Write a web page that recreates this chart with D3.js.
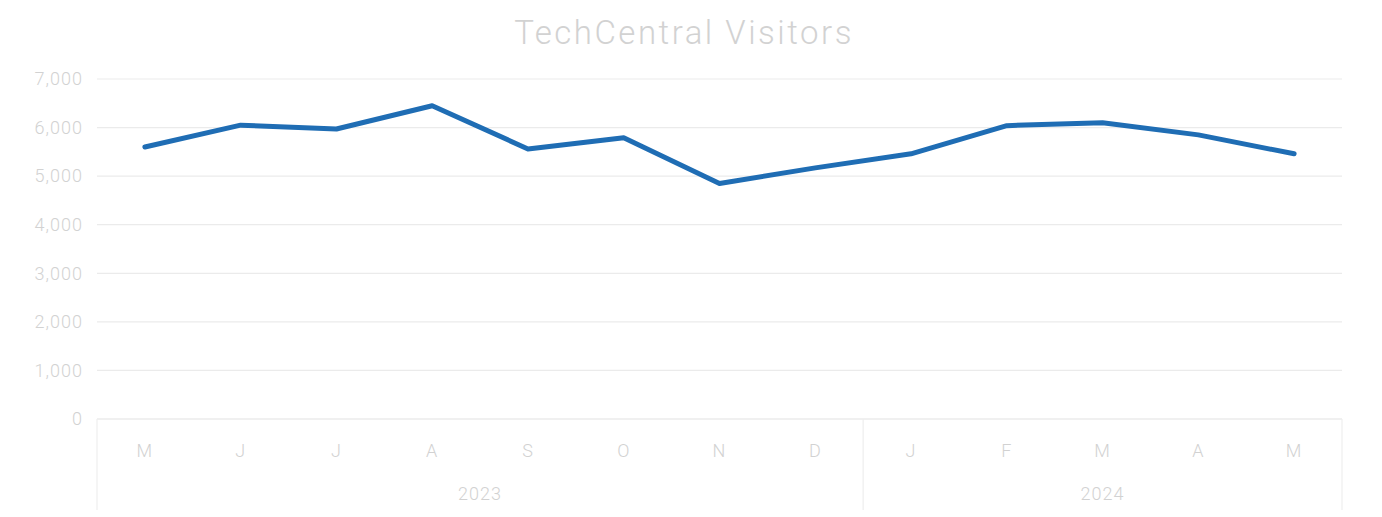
<!DOCTYPE html>
<html>
<head>
<meta charset="utf-8">
<script src="https://cdn.jsdelivr.net/npm/d3@7"></script>
<style>
  body { margin: 0; background: #fff; }
  svg { display: block; }
</style>
</head>
<body>
<div id="chart"></div>
<script>
// chart data
var months = ["M", "J", "J", "A", "S", "O", "N", "D", "J", "F", "M", "A", "M"];
var years = ["2023", "2023", "2023", "2023", "2023", "2023", "2023", "2023", "2024", "2024", "2024", "2024", "2024"];
var visitors = [5600, 6050, 5970, 6450, 5560, 5790, 4850, 5170, 5460, 6040, 6100, 5850, 5460];
var yTicks = [0, 1000, 2000, 3000, 4000, 5000, 6000, 7000];

var width = 1382,
	height = 517;

var margin = { top: 79, right: 40, bottom: 97, left: 97 };

var svg = d3.select("#chart")
	.append("svg")
	.attr("width", width)
	.attr("height", height);

var idx = d3.range(months.length);

// band scale so each month sits in the middle of its slot
var x = d3.scaleBand()
	.domain(idx)
	.range([margin.left, width - margin.right])
	.padding(0);

var y = d3.scaleLinear()
	.domain([0, 7000])
	.range([height - margin.bottom - 1, margin.top]);

// Title
svg.append("text")
	.attr("x", 684)
	.attr("y", 44)
	.attr("text-anchor", "middle")
	.style("font-family", "Roboto, sans-serif")
	.style("font-weight", "300")
	.style("font-size", "33px")
	.style("letter-spacing", "2.5px")
	.style("fill", "#d2d2d2")
	.text("TechCentral Visitors");

// gridlines
svg.append("g")
	.selectAll("line")
	.data(yTicks)
	.enter().append("line")
	.attr("x1", margin.left)
	.attr("x2", width - margin.right)
	.attr("y1", function(d) { return y(d); })
	.attr("y2", function(d) { return y(d); })
	.style("stroke", function(d) { return d === 0 ? "#e2e2e2" : "#ebebeb"; })
	.style("stroke-width", "1.2");

var labelStyle = function(sel) {
	sel.style("font-family", "Roboto, sans-serif")
		.style("font-weight", "300")
		.style("font-size", "18px")
		.style("letter-spacing", "1px")
		.style("fill", "#d2d2d2");
};

// y axis labels
var yAxis = d3.axisLeft(y)
	.tickValues(yTicks)
	.tickSize(0)
	.tickPadding(14)
	.tickFormat(d3.format(","));

var gy = svg.append("g")
	.attr("transform", "translate(" + margin.left + ",0)")
	.call(yAxis);
gy.select(".domain").remove();
gy.selectAll("text").call(labelStyle);

// month labels
var xAxis = d3.axisBottom(x)
	.tickSize(0)
	.tickPadding(25)
	.tickFormat(function(i) { return months[i]; });

var gx = svg.append("g")
	.attr("transform", "translate(0," + y(0) + ")")
	.call(xAxis);
gx.select(".domain").remove();
gx.selectAll("text").call(labelStyle);

// year groups
var yearGroups = d3.groups(idx, function(i) { return years[i]; });
var axisBottom = height - 7;

svg.append("g")
	.selectAll("text")
	.data(yearGroups)
	.enter().append("text")
	.attr("x", function(g) {
		var first = g[1][0], last = g[1][g[1].length - 1];
		return (x(first) + x(last) + x.bandwidth()) / 2;
	})
	.attr("y", 500)
	.attr("text-anchor", "middle")
	.call(labelStyle)
	.text(function(g) { return g[0]; });

// dividers of the two level category axis
var dividers = [x(0)];
yearGroups.forEach(function(g) {
	dividers.push(x(g[1][g[1].length - 1]) + x.bandwidth());
});

svg.append("g")
	.selectAll("line")
	.data(dividers)
	.enter().append("line")
	.attr("x1", function(d) { return d; })
	.attr("x2", function(d) { return d; })
	.attr("y1", y(0))
	.attr("y2", axisBottom)
	.style("stroke", "#eeeeee")
	.style("stroke-width", "1.2");

// the line itself
var line = d3.line()
	.x(function(d, i) { return x(i) + x.bandwidth() / 2; })
	.y(function(d) { return y(d); });

svg.append("path")
	.datum(visitors)
	.attr("d", line)
	.style("fill", "none")
	.style("stroke", "#1f6db4")
	.style("stroke-width", "5")
	.style("stroke-linejoin", "round")
	.style("stroke-linecap", "round");
</script>
</body>
</html>
